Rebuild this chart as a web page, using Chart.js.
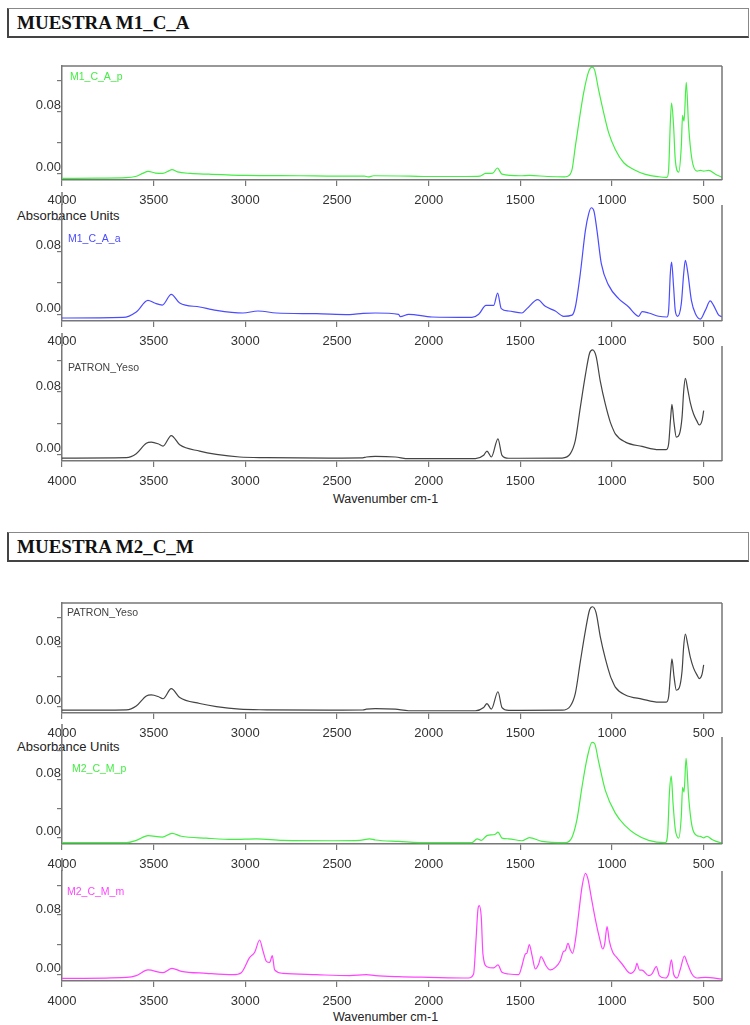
<!DOCTYPE html>
<html lang="es">
<head>
<meta charset="utf-8">
<title>Espectros FTIR - Muestras M1_C_A y M2_C_M</title>
<script src="https://cdn.jsdelivr.net/npm/chart.js@4.4.0/dist/chart.umd.min.js"></script>
<style>
  body { margin: 0; width: 750px; height: 1025px; background: #fff; position: relative; overflow: hidden;
         font-family: "Liberation Sans", Arial, sans-serif; }
  .cabecera { position: absolute; left: 7px; width: 742px; height: 30px; box-sizing: border-box;
              border: 1px solid #888; border-left: 2px solid #444; border-bottom: 2px solid #444;
              font-family: "Liberation Serif", "Times New Roman", serif; font-weight: bold;
              font-size: 19px; line-height: 27px; padding-left: 8px; color: #111; }
  canvas { position: absolute; left: 0; }
  .eje { position: absolute; font-size: 13px; color: #222; white-space: nowrap; }
</style>
</head>
<body>

<div class="cabecera" style="top:8px">MUESTRA M1_C_A</div>
<div class="cabecera" style="top:532px">MUESTRA M2_C_M</div>

<div class="eje" style="left:17px; top:208px">Absorbance Units</div>
<div class="eje" style="left:333px; top:492px; font-size:12.5px">Wavenumber cm-1</div>
<div class="eje" style="left:17px; top:739px">Absorbance Units</div>
<div class="eje" style="left:333px; top:1010px; font-size:12.5px">Wavenumber cm-1</div>

<canvas id="p1"></canvas>
<canvas id="p2"></canvas>
<canvas id="p3"></canvas>
<canvas id="p4"></canvas>
<canvas id="p5"></canvas>
<canvas id="p6"></canvas>

<script>
// ======================
// Datos (numero de onda cm-1 / absorbancia)
// ======================

const ticksOnda = [4000, 3500, 3000, 2500, 2000, 1500, 1000, 500];
const ticksAbs = [0, 0.04, 0.08, 0.12];

// M1_C_A_p (verde)
const ondaM1p = [4000, 3800, 3650, 3600, 3560, 3530, 3490, 3450, 3420, 3400, 3370, 3300, 3200, 3000, 2700, 2500,
  2350, 2330, 2300, 2100, 2000, 1800, 1720, 1690, 1650, 1625, 1600, 1500, 1450, 1350, 1260, 1246, 1218, 1200,
  1173, 1155, 1127, 1109, 1095, 1073, 1045, 1018, 982, 936, 882, 818, 745, 700, 691, 682, 675, 664, 655, 636,
  622, 615, 607, 595, 582, 564, 536, 518, 500, 473, 436, 409, 400];
const absM1p = [-0.0065, -0.006, -0.0055, -0.004, 0.0, 0.0026, 0.0005, 0.0, 0.003, 0.005, 0.002, 0.0, -0.001, -0.0025, -0.003, -0.0035,
  -0.0035, -0.0045, -0.003, -0.0035, -0.004, -0.004, -0.0035, 0.0, 0.0005, 0.007, -0.001, -0.003, -0.0025, -0.004, -0.0045, -0.004, 0.005, 0.035,
  0.078, 0.104, 0.132, 0.1375, 0.134, 0.108, 0.078, 0.0525, 0.031, 0.0138, 0.005, -0.0013, -0.0043, -0.005, 0.005, 0.065, 0.091, 0.061, 0.018, 0.0017,
  0.035, 0.075, 0.0675, 0.118, 0.061, 0.018, 0.003, 0.004, 0.003, 0.004, -0.001, -0.004, -0.005];

// M1_C_A_a (azul)
const ondaM1a = [4000, 3667, 3595, 3531, 3495, 3453, 3404, 3358, 3249, 3158, 3013, 2931, 2831, 2613, 2431, 2358,
  2291, 2164, 2155, 2109, 1982, 1764, 1727, 1687, 1645, 1624, 1604, 1564, 1491, 1464, 1405, 1364, 1309, 1264,
  1218, 1200, 1173, 1145, 1127, 1113, 1098, 1082, 1058, 1018, 964, 909, 873, 855, 836, 800, 745, 700, 691, 682,
  675, 664, 655, 642, 622, 609, 600, 587, 567, 545, 518, 491, 464, 446, 418, 400];
const absM1a = [-0.0047, -0.004, 0.003, 0.0178, 0.0144, 0.0118, 0.0254, 0.0144, 0.0093, 0.005, 0.0017, 0.0042, 0.0017, 0.0008, -0.0004, 0.0012,
  0.0017, 0.0, -0.003, 0.0, -0.0034, -0.004, 0.0, 0.0114, 0.0114, 0.027, 0.0072, 0.0042, 0.0017, 0.0072, 0.0186, 0.0102, 0.0042, -0.0025,
  -0.001, 0.0093, 0.0516, 0.1067, 0.128, 0.1355, 0.131, 0.1067, 0.064, 0.0368, 0.02, 0.0093, 0.0, -0.0025, 0.0034, 0.0017, -0.0025, -0.0034, 0.005, 0.0516,
  0.0664, 0.0347, 0.005, -0.0025, 0.0136, 0.0516, 0.0686, 0.0537, 0.0178, 0.0008, -0.006, 0.005, 0.017, 0.0114, -0.001, -0.003];

// PATRON_Yeso (gris oscuro)
const ondaYeso = [4000, 3649, 3595, 3540, 3513, 3476, 3449, 3404, 3358, 3249, 3158, 3031, 2885, 2522, 2360, 2340,
  2291, 2182, 2109, 1982, 1745, 1700, 1682, 1658, 1622, 1600, 1564, 1273, 1227, 1200, 1173, 1145, 1122, 1106,
  1087, 1064, 1036, 1009, 1000, 982, 927, 836, 745, 704, 691, 680, 673, 662, 649, 633, 618, 609, 600, 587, 573,
  555, 536, 524, 509, 500];
const absYeso = [-0.0047, -0.0042, 0.0009, 0.0144, 0.0157, 0.0136, 0.0106, 0.0241, 0.0123, 0.0042, 0.0, -0.0034, -0.0042, -0.0047, -0.0045, -0.0034,
  -0.0025, -0.0034, -0.0055, -0.0055, -0.0055, -0.0012, 0.0042, -0.0034, 0.02, -0.0012, -0.005, -0.0047, 0.0009, 0.0178, 0.06, 0.102, 0.13, 0.134,
  0.126, 0.094, 0.064, 0.041, 0.0356, 0.0263, 0.0157, 0.0102, 0.006, 0.006, 0.0136, 0.0474, 0.064, 0.041, 0.022, 0.0254, 0.0474, 0.081, 0.0974, 0.0834, 0.0664,
  0.0517, 0.0423, 0.0377, 0.0432, 0.056];

// M2_C_M_p (verde)
const ondaM2p = [4000, 3649, 3595, 3531, 3453, 3400, 3349, 3213, 3067, 2940, 2795, 2522, 2376, 2322, 2291, 2164,
  2000, 1764, 1736, 1713, 1682, 1636, 1622, 1600, 1564, 1491, 1451, 1382, 1255, 1218, 1191, 1164, 1136, 1109,
  1095, 1073, 1036, 982, 927, 873, 800, 709, 696, 687, 677, 667, 655, 636, 622, 615, 607, 596, 582, 564, 536,
  518, 509, 500, 482, 455, 409, 400];
const absM2p = [-0.0067, -0.0067, -0.0035, 0.003, 0.001, 0.0062, 0.0022, -0.0004, -0.0022, -0.0013, -0.0035, -0.004, -0.0035, -0.0013, -0.003, -0.0049,
  -0.0067, -0.0067, -0.0013, -0.0035, 0.003, 0.005, 0.008, -0.0004, -0.0013, -0.004, 0.0004, -0.005, -0.0067, 0.0009, 0.0253, 0.0696, 0.1095, 0.1317,
  0.13, 0.105, 0.065, 0.034, 0.0164, 0.0053, -0.0035, -0.0067, 0.0075, 0.0608, 0.085, 0.0475, 0.012, -0.0004, 0.0297, 0.0696, 0.063, 0.1095, 0.0563, 0.0164, 0.003,
  0.002, 0.0009, 0.0, 0.0022, -0.0022, -0.0067, -0.007];

// M2_C_M_m (magenta)
const ondaM2m = [4000, 3649, 3595, 3531, 3449, 3400, 3349, 3213, 3067, 3022, 2976, 2949, 2922, 2904, 2885, 2867,
  2853, 2840, 2795, 2613, 2431, 2340, 2291, 2164, 2000, 1782, 1755, 1742, 1731, 1724, 1713, 1704, 1682, 1645,
  1622, 1600, 1564, 1509, 1491, 1473, 1464, 1451, 1436, 1418, 1400, 1387, 1373, 1360, 1336, 1309, 1282, 1264,
  1255, 1240, 1227, 1215, 1200, 1182, 1164, 1145, 1131, 1113, 1091, 1069, 1051, 1040, 1027, 1015, 996, 978,
  945, 900, 873, 864, 851, 836, 800, 782, 758, 742, 709, 691, 676, 664, 645, 627, 605, 591, 564, 536, 491, 400];
const absM2m = [-0.005, -0.0036, -0.0013, 0.0063, 0.0027, 0.0085, 0.0045, 0.0018, 0.0, 0.0027, 0.0232, 0.03, 0.0465, 0.032, 0.0179, 0.0165,
  0.0255, 0.0063, 0.0018, 0.0, -0.0013, 0.0, -0.0013, -0.0027, -0.0036, -0.0045, 0.0009, 0.0456, 0.088, 0.0925, 0.0768, 0.0277, 0.0107, 0.009,
  0.013, 0.0031, 0.0009, 0.0, 0.012, 0.0277, 0.029, 0.0402, 0.0255, 0.0076, 0.0143, 0.0241, 0.0188, 0.012, 0.0063, 0.0098, 0.0188, 0.0313,
  0.032, 0.042, 0.033, 0.0286, 0.0456, 0.0813, 0.117, 0.1357, 0.128, 0.1036, 0.0746, 0.05, 0.0344, 0.041, 0.0643, 0.0456, 0.03, 0.0241,
  0.0143, 0.0018, 0.0076, 0.0152, 0.0063, 0.006, -0.0013, 0.001, 0.0107, -0.0013, -0.0045, 0.0009, 0.0197, 0.0009, -0.0045, 0.0076, 0.025, 0.0165, 0.0009, -0.0045, -0.0036, -0.0058];

// ======================
// Disposicion de los paneles (en pixeles de pagina)
// ======================

const paneles = [
  { id: "p1", nombre: "M1_C_A_p", color: "#44ee44", onda: ondaM1p, abs: absM1p, arriba: 66, abajo: 180, caja: true, dx: 8, dy: 11 },
  { id: "p2", nombre: "M1_C_A_a", color: "#4b4bff", onda: ondaM1a, abs: absM1a, arriba: 205, abajo: 321, caja: false, dx: 6, dy: 34 },
  { id: "p3", nombre: "PATRON_Yeso", color: "#444444", onda: ondaYeso, abs: absYeso, arriba: 346, abajo: 461, caja: false, dx: 6, dy: 22 },
  { id: "p4", nombre: "PATRON_Yeso", color: "#444444", onda: ondaYeso, abs: absYeso, arriba: 603, abajo: 713, caja: true, dx: 5, dy: 10 },
  { id: "p5", nombre: "M2_C_M_p", color: "#44ee44", onda: ondaM2p, abs: absM2p, arriba: 737, abajo: 844, caja: false, dx: 10, dy: 32 },
  { id: "p6", nombre: "M2_C_M_m", color: "#ff44ff", onda: ondaM2m, abs: absM2m, arriba: 871, abajo: 981, caja: false, dx: 5, dy: 21 }
];

const MARGEN_SUP = 15;
const ALTO_EJE_X = 30;
const colorEje = "#777";

Chart.defaults.font.family = '"Liberation Sans", Arial, sans-serif';
Chart.defaults.color = "#333";

// Marco del panel, prolongacion del eje izquierdo y nombre de la muestra
const marco = {
  id: "marco",
  afterDraw(chart, args, o) {
    const { ctx, chartArea: a } = chart;
    ctx.save();
    ctx.strokeStyle = colorEje;
    ctx.lineWidth = 1.5;
    ctx.beginPath();
    ctx.moveTo(a.right, a.top);
    ctx.lineTo(a.right, a.bottom);
    if (o.caja) {
      ctx.moveTo(a.left, a.top);
      ctx.lineTo(a.right, a.top);
    } else {
      ctx.moveTo(a.left, a.top - 13);
      ctx.lineTo(a.left, a.top);
    }
    ctx.stroke();
    ctx.fillStyle = o.color;
    ctx.font = '10.5px "Liberation Sans", Arial, sans-serif';
    ctx.textBaseline = "middle";
    ctx.fillText(o.nombre, a.left + o.dx, a.top + o.dy);
    ctx.restore();
  }
};

function dibujarPanel(p) {
  const canvas = document.getElementById(p.id);
  const alto = MARGEN_SUP + (p.abajo - p.arriba) + ALTO_EJE_X;
  canvas.width = 750;
  canvas.height = alto;
  canvas.style.top = (p.arriba - MARGEN_SUP) + "px";

  new Chart(canvas.getContext("2d"), {
    type: "line",
    data: {
      datasets: [{
        label: p.nombre,
        data: p.onda.map((x, i) => ({ x: x, y: p.abs[i] })),
        borderColor: p.color,
        borderWidth: 1.2,
        pointRadius: 0,
        cubicInterpolationMode: "monotone",
        fill: false
      }]
    },
    options: {
      responsive: false,
      animation: false,
      layout: { padding: { top: MARGEN_SUP, right: 28, left: 0, bottom: 0 } },
      plugins: {
        legend: { display: false },
        tooltip: { enabled: false },
        marco: { caja: p.caja, nombre: p.nombre, color: p.color, dx: p.dx, dy: p.dy }
      },
      scales: {
        x: {
          type: "linear",
          reverse: true,
          min: 400,
          max: 4000,
          afterBuildTicks: s => { s.ticks = ticksOnda.map(v => ({ value: v })); },
          afterFit: s => { s.height = ALTO_EJE_X; },
          ticks: { autoSkip: false, maxRotation: 0, padding: 7, color: "#333", font: { size: 13 },
                   callback: v => String(v) },
          grid: { drawOnChartArea: false, drawTicks: true, tickLength: 6, color: colorEje, lineWidth: 1.2 },
          border: { display: true, color: colorEje, width: 1.5 }
        },
        y: {
          min: -0.0085,
          max: 0.139,
          afterBuildTicks: s => { s.ticks = ticksAbs.map(v => ({ value: v })); },
          afterFit: s => { s.width = 62; },
          ticks: {
            padding: -4,
            labelOffset: -6,
            color: "#333",
            font: { size: 13 },
            callback: v => (Math.abs(v) < 1e-9 ? "0.00" : Math.abs(v - 0.08) < 1e-9 ? "0.08" : "")
          },
          grid: { drawOnChartArea: false, drawTicks: true, tickLength: 5, color: colorEje, lineWidth: 1.2 },
          border: { display: true, color: colorEje, width: 1.5 }
        }
      }
    },
    plugins: [marco]
  });
}

paneles.forEach(dibujarPanel);
</script>
</body>
</html>
